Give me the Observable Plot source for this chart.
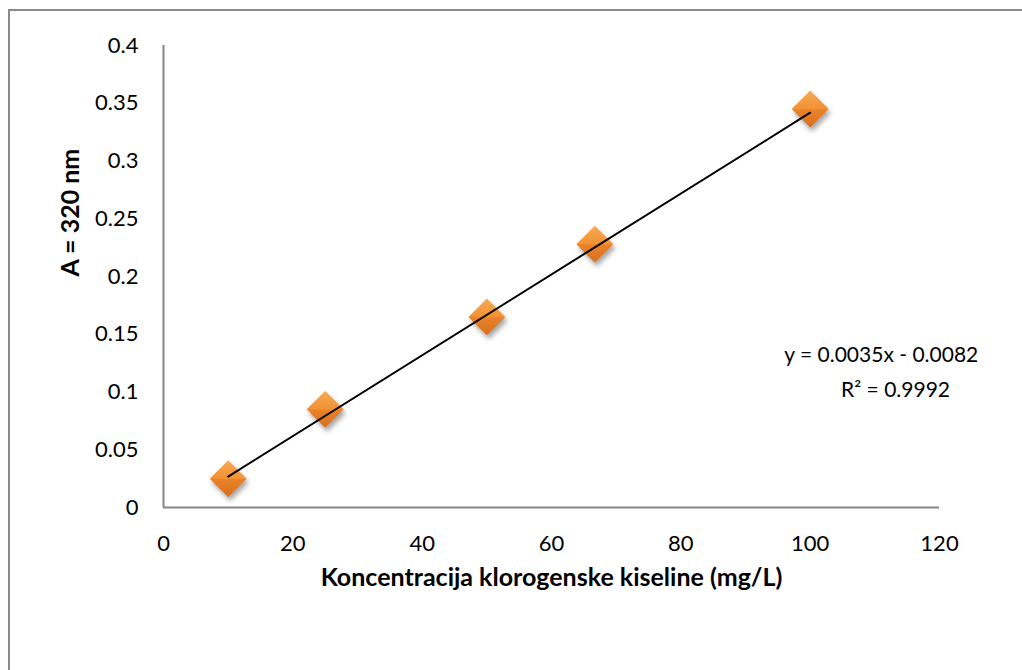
<!DOCTYPE html>
<html>
<head>
<meta charset="utf-8">
<script src="https://cdn.jsdelivr.net/npm/d3@7"></script>
<script src="https://cdn.jsdelivr.net/npm/@observablehq/plot@0.6"></script>
<style>
  html, body { margin: 0; padding: 0; background: #fff; overflow: hidden; }
  #wrap { position: relative; width: 1022px; height: 670px; overflow: hidden; }
  #border { position: absolute; left: 8px; top: 9px; width: 1200px; height: 900px;
            border: 2px solid #8a8a8a; box-sizing: border-box; pointer-events: none; }
  #chart { position: absolute; left: 0; top: 0; }
  g[aria-label="dot"] path { filter: drop-shadow(2px 4px 2.5px rgba(0,0,0,0.35)); }
</style>
</head>
<body>
<div id="wrap"><div id="chart"></div><div id="border"></div></div>
<script>
// Data
const concentrations = [10, 25, 50, 66.7, 100];
const absorbances = [0.025, 0.085, 0.165, 0.228, 0.345];
const xTicks = [0, 20, 40, 60, 80, 100, 120];
const yTicks = [0, 0.05, 0.1, 0.15, 0.2, 0.25, 0.3, 0.35, 0.4];
const slope = 0.0035;
const intercept = -0.0082;
const equationLines = ["y = 0.0035x - 0.0082", "R² = 0.9992"];
const xTitle = "Koncentracija klorogenske kiseline (mg/L)";
const yTitle = "A = 320 nm";

const points = concentrations.map((x, i) => ({x, y: absorbances[i]}));
const xExt = d3.extent(concentrations);
const trend = xExt.map(x => ({x, y: slope * x + intercept}));

const font = "Lato, 'Open Sans', sans-serif";

const defs = () => {
  const d = d3.create("svg:defs");
  const g = d.append("linearGradient").attr("id", "orangeGrad")
    .attr("x1", "0").attr("y1", "0").attr("x2", "0").attr("y2", "1");
  g.append("stop").attr("offset", "0%").attr("stop-color", "#f7aa55");
  g.append("stop").attr("offset", "50%").attr("stop-color", "#f29133");
  g.append("stop").attr("offset", "52%").attr("stop-color", "#e9822a");
  g.append("stop").attr("offset", "100%").attr("stop-color", "#d8701c");
  return d.node();
};

const chart = Plot.plot({
  width: 1022,
  height: 670,
  marginLeft: 163,
  marginRight: 83,
  marginTop: 45,
  marginBottom: 163,
  style: {fontFamily: font, fontSize: "22px", color: "#000", background: "transparent"},
  x: {domain: [0, 120], ticks: xTicks},
  y: {domain: [0, 0.4], ticks: yTicks},
  marks: [
    defs,
    Plot.axisX({ticks: xTicks, tickSize: 0, tickPadding: 28, label: null, tickFormat: d => String(d), fontSize: 22}),
    Plot.axisY({ticks: yTicks, tickSize: 0, tickPadding: 25, label: null, tickFormat: d => String(d), fontSize: 22}),
    Plot.ruleX([0], {stroke: "#868686", strokeWidth: 2}),
    Plot.ruleY([0], {stroke: "#868686", strokeWidth: 2}),
    Plot.dot(points, {x: "x", y: "y", symbol: "diamond2", r: 16.6, fill: "url(#orangeGrad)", stroke: "none"}),
    Plot.line(trend, {x: "x", y: "y", stroke: "#000", strokeWidth: 2}),
    Plot.text([equationLines[0]], {x: 111, y: 0.1316, text: d => d, fontSize: 21, fill: "#000", textAnchor: "middle"}),
    Plot.text([equationLines[1]], {x: 113.2, y: 0.1016, text: d => d, fontSize: 21, fill: "#000", textAnchor: "middle"}),
    Plot.text([xTitle], {frameAnchor: "bottom", dy: 78, text: d => d, fontSize: 25, fontWeight: "bold", fill: "#000"}),
    Plot.text([yTitle], {frameAnchor: "left", dx: -93, rotate: -90, text: d => d, fontSize: 25, fontWeight: "bold", fill: "#000"})
  ]
});
document.getElementById("chart").appendChild(chart);
</script>
</body>
</html>
